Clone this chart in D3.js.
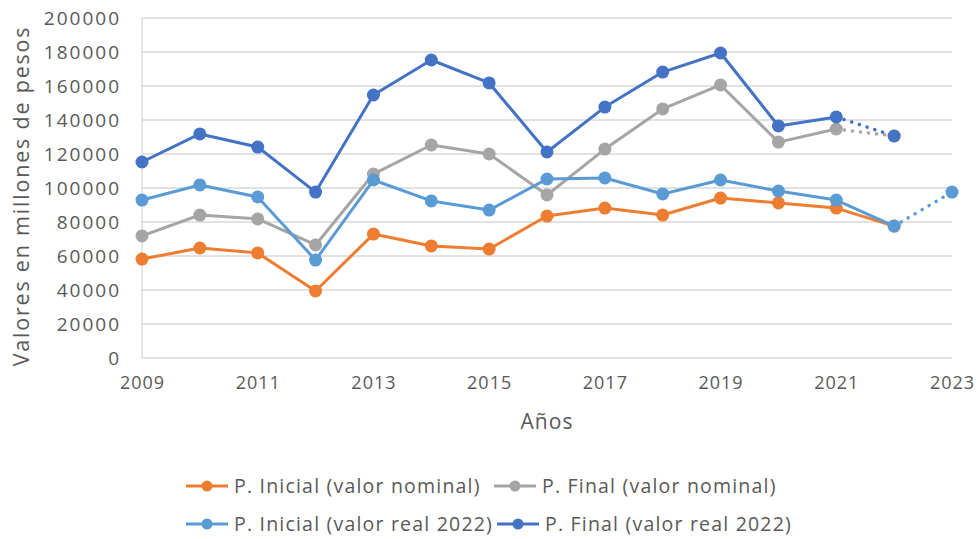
<!DOCTYPE html>
<html>
<head>
<meta charset="utf-8">
<script src="https://cdn.jsdelivr.net/npm/d3@7"></script>
<style>
  body { margin: 0; background: #fff; }
  text { font-family: "Open Sans", "Noto Sans", sans-serif; fill: #595959; }
</style>
</head>
<body>
<svg id="chart" width="977" height="539"></svg>
<script>
// datos
const years = [2009, 2010, 2011, 2012, 2013, 2014, 2015, 2016, 2017, 2018, 2019, 2020, 2021, 2022, 2023];
const inicialNominal = [58200, 64700, 61800, 39400, 72900, 65900, 64100, 83500, 88200, 84100, 94100, 91200, 88200, 77600, null];
const finalNominal = [71800, 84100, 81800, 66500, 108200, 125300, 120000, 95900, 122900, 146500, 160600, 127000, 134700, 130600, null];
const inicialReal = [92900, 101800, 94700, 57600, 104700, 92400, 87000, 105300, 105900, 96500, 104700, 98200, 92900, 77600, 97600];
const finalReal = [115300, 131800, 124100, 97600, 154700, 175300, 161800, 121200, 147600, 168200, 179400, 136500, 141800, 130600, null];
const yTicks = [0, 20000, 40000, 60000, 80000, 100000, 120000, 140000, 160000, 180000, 200000];
const xTicks = [2009, 2011, 2013, 2015, 2017, 2019, 2021, 2023];

// tramo punteado: desde que año empieza la proyeccion
const series = [
  { name: "P. Inicial (valor nominal)", values: inicialNominal, color: "#ED7D31", dotFrom: 2099 },
  { name: "P. Final (valor nominal)", values: finalNominal, color: "#A5A5A5", dotFrom: 2021 },
  { name: "P. Inicial (valor real 2022)", values: inicialReal, color: "#5B9BD5", dotFrom: 2022 },
  { name: "P. Final (valor real 2022)", values: finalReal, color: "#4472C4", dotFrom: 2021 }
];

const svg = d3.select("#chart");
const mLeft = 142, mRight = 952, mTop = 18, mBottom = 358;

const x = d3.scaleLinear().domain([2009, 2023]).range([mLeft, mRight]);
const y = d3.scaleLinear().domain([0, 200000]).range([mBottom, mTop]);

// rejilla
svg.append("g").selectAll("line").data(yTicks).enter().append("line")
  .attr("x1", mLeft).attr("x2", mRight)
  .attr("y1", d => y(d)).attr("y2", d => y(d))
  .attr("stroke", "#d9d9d9").attr("stroke-width", 1.3);
svg.append("line").attr("x1", mLeft).attr("x2", mLeft).attr("y1", mTop).attr("y2", mBottom)
  .attr("stroke", "#d9d9d9").attr("stroke-width", 1.3);

// ejes
const yAxis = svg.append("g").attr("transform", `translate(${mLeft - 18},0)`)
  .call(d3.axisLeft(y).tickValues(yTicks).tickSize(0).tickFormat(d3.format("d")));
yAxis.select(".domain").remove();
yAxis.selectAll("text").style("font-size", "19px").style("letter-spacing", "2px").attr("fill", "#595959").attr("dy", "0.35em");

const xAxis = svg.append("g").attr("transform", `translate(0,${mBottom + 14})`)
  .call(d3.axisBottom(x).tickValues(xTicks).tickSize(0).tickFormat(d3.format("d")));
xAxis.select(".domain").remove();
xAxis.selectAll("text").style("font-size", "18px").style("letter-spacing", "1px").attr("fill", "#595959").attr("dy", "0.8em");

svg.append("text").attr("x", (mLeft + mRight) / 2).attr("y", 429).attr("text-anchor", "middle")
  .style("font-size", "21px").style("letter-spacing", "1px").text("Años");
svg.append("text").attr("transform", `translate(29,${(mTop + mBottom) / 2 + 8}) rotate(-90)`)
  .attr("text-anchor", "middle").style("font-size", "21.5px").style("letter-spacing", "1.8px")
  .text("Valores en millones de pesos");

const line = d3.line().defined(d => d.v !== null).x(d => x(d.year)).y(d => y(d.v));

series.forEach(s => {
  const pts = years.map((yr, i) => ({ year: yr, v: s.values[i] }));
  const solid = pts.filter(p => p.year <= s.dotFrom && p.v !== null);
  const dotted = pts.filter(p => p.year >= s.dotFrom && p.v !== null);
  const g = svg.append("g");
  g.append("path").datum(solid).attr("d", line).attr("fill", "none")
    .attr("stroke", s.color).attr("stroke-width", 3).attr("stroke-linejoin", "round");
  if (dotted.length > 1) {
    g.append("path").datum(dotted).attr("d", line).attr("fill", "none")
      .attr("stroke", s.color).attr("stroke-width", 3.5)
      .attr("stroke-dasharray", "0.1 8").attr("stroke-linecap", "round");
  }
  g.selectAll("circle").data(pts.filter(p => p.v !== null)).enter().append("circle")
    .attr("cx", d => x(d.year)).attr("cy", d => y(d.v)).attr("r", 6.5)
    .attr("fill", s.color);
});

// leyenda
const legendPos = [[186, 486], [494, 486], [186, 524], [497, 524]];
series.forEach((s, i) => {
  const [lx, ly] = legendPos[i];
  const g = svg.append("g").attr("transform", `translate(${lx},${ly})`);
  g.append("line").attr("x1", 0).attr("x2", 42).attr("stroke", s.color).attr("stroke-width", 3);
  g.append("circle").attr("cx", 21).attr("r", 5.5).attr("fill", s.color);
  g.append("text").attr("x", 48).attr("dy", "0.35em").style("font-size", "19.5px")
    .style("letter-spacing", "1.2px").text(s.name);
});
</script>
</body>
</html>
